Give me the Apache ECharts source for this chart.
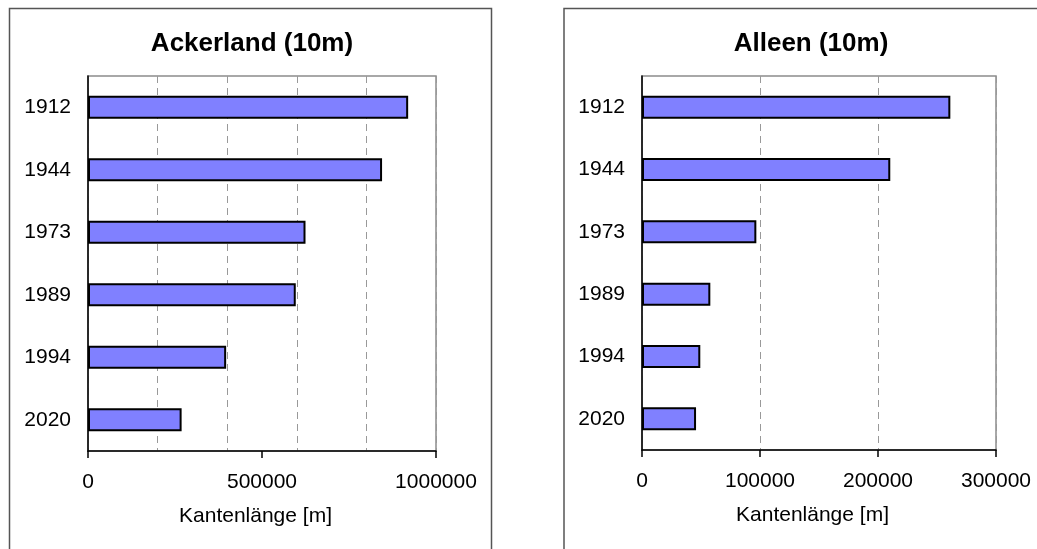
<!DOCTYPE html>
<html>
<head>
<meta charset="utf-8">
<title>Kantenlänge</title>
<script src="https://cdn.jsdelivr.net/npm/echarts@6/dist/echarts.min.js"></script>
<style>
  html, body { margin: 0; padding: 0; background: #fff; }
  #chart { width: 1037px; height: 549px; }
</style>
</head>
<body>
<div id="chart"></div>
<script>
// Survey years (top to bottom)
const years = ['1912', '1944', '1973', '1989', '1994', '2020'];
// Edge length per year [m]
const ackerland = [920000, 845000, 625000, 597000, 397000, 269000];
const alleen = [261300, 210400, 96900, 57900, 49400, 45800];
// Axis ranges: labelled step and dashed gridline step
const ackerlandMax = 1000000, ackerlandLabelStep = 500000, ackerlandGridStep = 200000;
const alleenMax = 300000, alleenLabelStep = 100000, alleenGridStep = 100000;

const FONT = '"Liberation Sans", Arial, sans-serif';
const BAR_COLOR = '#8080ff';

// Labelled value axis (no gridlines of its own)
function valueAxis(gridIndex, max, step) {
  return {
    type: 'value',
    gridIndex: gridIndex,
    min: 0,
    max: max,
    interval: step,
    name: 'Kantenlänge [m]',
    nameLocation: 'middle',
    nameGap: 55,
    nameTextStyle: { fontFamily: FONT, fontSize: 21, color: '#000', padding: [0, 13, 0, 0] },
    axisLine: { show: true, lineStyle: { color: '#000', width: 1.5 } },
    axisTick: { show: true, length: 7, lineStyle: { color: '#000', width: 1.5 } },
    axisLabel: {
      fontFamily: FONT, fontSize: 21, color: '#000', margin: 21,
      formatter: function (v) { return String(v); }
    },
    splitLine: { show: false }
  };
}

// Unlabelled companion axis that only carries the dashed gridlines
function gridAxis(gridIndex, max, step) {
  return {
    type: 'value',
    gridIndex: gridIndex,
    min: 0,
    max: max,
    interval: step,
    position: 'bottom',
    z: 0,
    axisLine: { show: false },
    axisTick: { show: false },
    axisLabel: { show: false },
    splitLine: { show: true, lineStyle: { color: '#999', width: 1, type: [7, 5] } }
  };
}

function categoryAxis(gridIndex) {
  return {
    type: 'category',
    gridIndex: gridIndex,
    data: years,
    inverse: true,
    axisLine: { show: true, lineStyle: { color: '#000', width: 1.5 } },
    axisTick: { show: false },
    axisLabel: { fontFamily: FONT, fontSize: 21, color: '#000', margin: 17 },
    splitLine: { show: false }
  };
}

function barSeries(axisIndex, gridIndex, values) {
  return {
    type: 'bar',
    xAxisIndex: axisIndex,
    yAxisIndex: gridIndex,
    data: values,
    barWidth: 23,
    itemStyle: { color: BAR_COLOR, borderColor: '#000', borderWidth: 2 },
    silent: true
  };
}

const chart = echarts.init(document.getElementById('chart'), null, { renderer: 'canvas' });
chart.setOption({
  animation: false,
  backgroundColor: '#fff',
  title: [
    {
      text: 'Ackerland (10m)', left: 252, top: 31, textAlign: 'center', padding: 0,
      textStyle: { fontFamily: FONT, fontSize: 26, fontWeight: 'bold', color: '#000' }
    },
    {
      text: 'Alleen (10m)', left: 811, top: 31, textAlign: 'center', padding: 0,
      textStyle: { fontFamily: FONT, fontSize: 26, fontWeight: 'bold', color: '#000' }
    }
  ],
  grid: [
    { left: 88, right: 601, top: 76, bottom: 98, show: true, borderColor: '#8c8c8c', borderWidth: 1.5, backgroundColor: 'transparent' },
    { left: 642, right: 41, top: 76, bottom: 99, show: true, borderColor: '#8c8c8c', borderWidth: 1.5, backgroundColor: 'transparent' }
  ],
  xAxis: [
    valueAxis(0, ackerlandMax, ackerlandLabelStep),
    valueAxis(1, alleenMax, alleenLabelStep),
    gridAxis(0, ackerlandMax, ackerlandGridStep),
    gridAxis(1, alleenMax, alleenGridStep)
  ],
  yAxis: [categoryAxis(0), categoryAxis(1)],
  series: [barSeries(0, 0, ackerland), barSeries(1, 1, alleen)],
  graphic: [
    // chart frames around each panel
    { type: 'rect', silent: true, z: -1, shape: { x: 9.5, y: 8.5, width: 482, height: 600 },
      style: { fill: 'none', stroke: '#555', lineWidth: 1.5 } },
    { type: 'rect', silent: true, z: -1, shape: { x: 564, y: 8.5, width: 600, height: 600 },
      style: { fill: 'none', stroke: '#555', lineWidth: 1.5 } }
  ]
});
</script>
</body>
</html>
